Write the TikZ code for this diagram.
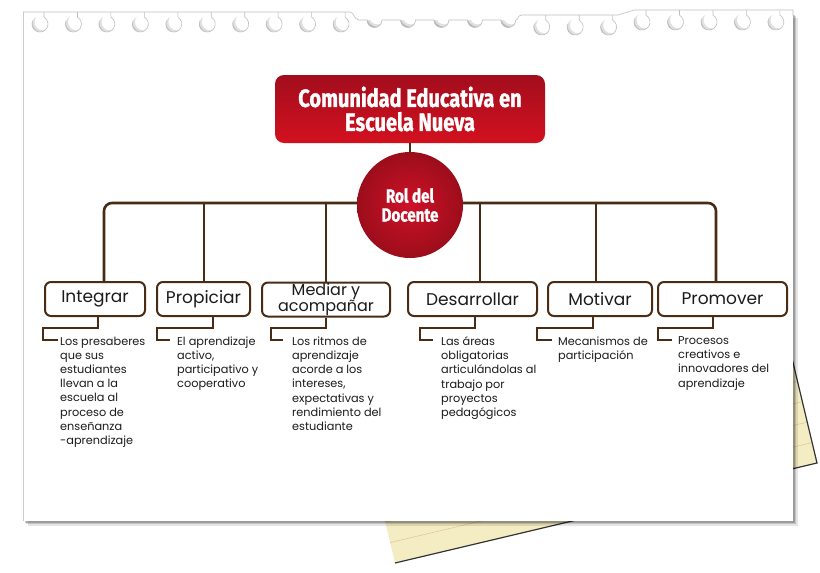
\documentclass[tikz,border=0pt]{standalone}
\usepackage{fontspec}
\setmainfont{Poppins}
\newfontfamily\headfont{Fira Sans}[FakeStretch=0.8, FakeBold=1.2]
\usetikzlibrary{calc}
\definecolor{brownline}{HTML}{4A2C14}
\definecolor{redtop}{HTML}{A20D1D}
\definecolor{redbot}{HTML}{D3111F}
\definecolor{redcore}{HTML}{CE1228}
\definecolor{redrim}{HTML}{9C0D1B}
\definecolor{notepaper}{HTML}{F4EDC4}
\definecolor{noterule}{HTML}{E2C89C}
\definecolor{ink}{HTML}{1B1B1B}
\newcommand\verbfont{\fontsize{17}{15}\selectfont\lineskiplimit -20pt\relax}
\newcommand\pairfont{\fontsize{16}{15.5}\selectfont\lineskiplimit -20pt\relax}
\begin{document}
\begin{tikzpicture}[x=1pt,y=-1pt,
  trunk/.style={draw=brownline, line width=2.6pt, rounded corners=8pt},
  branch/.style={draw=brownline, line width=2pt},
  sub/.style={draw=brownline, line width=1.8pt},
  verb/.style={draw=brownline, line width=2pt, fill=white, rounded corners=6pt,
    inner sep=0pt, minimum height=34pt, align=center, text=ink, font=\verbfont},
  note/.style={inner sep=0pt, anchor=north west, align=left, text=ink,
    font=\fontsize{11.3}{14.2}\selectfont},
  rim/.style={draw=gray!50, line width=0.6pt},
]
\useasboundingbox (0,0) rectangle (820,573);

% yellow note sheet lying under the page
\coordinate (yTL) at (337,320);
\coordinate (yTR) at (759,220);
\coordinate (yBR) at (817,463);
\coordinate (yBL) at (395,563);
\fill[notepaper] (yTL) -- (yTR) -- (yBR) -- (yBL) -- cycle;
\begin{scope}
  \clip (yTL) -- (yTR) -- (yBR) -- (yBL) -- cycle;
  \foreach \k in {1,...,11}
    \draw[noterule, line width=0.6pt]
      ($(yBL)+(\k*21*-0.2306,\k*21*-0.973)$) -- ($(yBR)+(\k*21*-0.2306,\k*21*-0.973)$);
\end{scope}
\draw[black!80, line width=1.2pt] (yTR) -- (yBR) -- (yBL);

% page shadow and page
\fill[black, opacity=0.10] (27.5,17.5) rectangle (797.5,525.5);
\fill[black, opacity=0.15] (26,16) rectangle (796,524);
\fill[black, opacity=0.20] (24.5,14.5) rectangle (794.5,522.5);
\fill[white] (23,12) rectangle (793,521);
\draw[gray!40, line width=0.7pt] (23,12) -- (23,521);

% ring holes along the top edge, open towards the top
\foreach \cx/\ey in {40/12,73.45/12,106.9/12,140.35/12,173.8/12,207.25/12,240.7/12,274.15/12,307.6/12,341.05/12,
                     541.7/15,575.2/15,608.6/15,642/10,675.5/10,709/10,742.4/10,775.9/10}{
  \begin{scope}
    \clip (\cx,\ey+12) circle (8);
    \draw[black!12, line width=8pt] (\cx+3,\ey+10) circle (12.5);
    \draw[black!28, line width=4pt] (\cx+3,\ey+10) circle (13);
  \end{scope}
  \draw[rim] (\cx+4,\ey) -- (\cx+4,\ey+5.1) arc (-60:205:8);
}
% torn holes: only their lower halves are left
\foreach \cx in {374.5,408,441.4,474.9,508.3}{
  \begin{scope}
    \clip (\cx-7.5,20) arc (180:0:7.5) -- cycle;
    \draw[black!12, line width=8pt] (\cx+3,16) circle (12.5);
    \draw[black!28, line width=4pt] (\cx+3,16) circle (13);
  \end{scope}
}
\draw[rim] (23,12) -- (350,12) .. controls (354,12) and (354,20) .. (359,20)
  -- (367,20) arc (180:0:7.5) -- (400.5,20) arc (180:0:7.5)
  -- (433.9,20) arc (180:0:7.5) -- (467.4,20) arc (180:0:7.5)
  -- (500.8,20) arc (180:0:7.5) .. controls (519,20) and (517,15) .. (522,15)
  -- (618,15) -- (634,10) -- (793,10) -- (793,16);

% verb boxes
\node[verb, minimum width=100pt] (b1) at (95,299)    {Integrar};
\node[verb, minimum width=93pt]  (b2) at (203.5,299) {Propiciar};
\node[verb, minimum width=128pt, font=\pairfont] (b3) at (326,299.5) {Mediar y\\acompañar};
\node[verb, minimum width=129pt] (b4) at (472.5,299) {Desarrollar};
\node[verb, minimum width=104pt] (b5) at (600,299)   {Motivar};
\node[verb, minimum width=129pt] (b6) at (722.5,299) {Promover};

% trunk line and branches
\coordinate (L) at (104,203);
\coordinate (R) at (716,203);
\draw[trunk] (b1.north -| L) -- (L) -- (R) -- (b6.north -| R);
\foreach \i/\x in {2/204,3/326,4/480,5/596}{
  \coordinate (v\i) at (\x,203);
  \draw[branch] (b\i.north -| v\i) -- (v\i);
}

% title and central circle
\node[rounded corners=9pt, minimum width=270pt, minimum height=68pt, inner sep=0pt,
      top color=redtop, bottom color=redbot, text=white, align=center,
      font=\headfont\bfseries\fontsize{25}{24}\selectfont] (top) at (410,109)
      {Comunidad Educativa en\\Escuela Nueva};
\node[circle, minimum size=106pt, inner sep=0pt, inner color=redcore, outer color=redrim,
      text=white, align=center, font=\headfont\bfseries\fontsize{19}{19}\selectfont]
      (rol) at (410,205) {Rol del\\Docente};
\draw[branch] (top.south) -- (rol.north);

% descriptions
\node[note] (t1) at (60,336.5)  {Los presaberes\\que sus\\estudiantes\\llevan a la\\escuela al\\proceso de\\enseñanza\\-aprendizaje};
\node[note] (t2) at (177,336.5) {El aprendizaje\\activo,\\participativo y\\cooperativo};
\node[note] (t3) at (292,336.5) {Los ritmos de\\aprendizaje\\acorde a los\\intereses,\\expectativas y\\rendimiento del\\estudiante};
\node[note] (t4) at (441,336.5) {Las áreas\\obligatorias\\articulándolas al\\trabajo por\\proyectos\\pedagógicos};
\node[note] (t5) at (558,336.5) {Mecanismos de\\participación};
\node[note] (t6) at (678,336.5) {Procesos\\creativos e\\innovadores del\\aprendizaje};

% elbow connectors from each box to its description
\foreach \i/\kx/\jx/\ex in {1/98/43/58, 2/213/157/170, 3/326/271/283, 4/475/420/433, 5/593/537/552, 6/713/658/672}{
  \coordinate (k\i) at (\kx,328);
  \coordinate (j\i) at (\jx,340);
  \coordinate (e\i) at (\ex,340);
  \draw[sub] (b\i.south -| k\i) -- (k\i) -| (j\i) -- (e\i);
}
\end{tikzpicture}
\end{document}
